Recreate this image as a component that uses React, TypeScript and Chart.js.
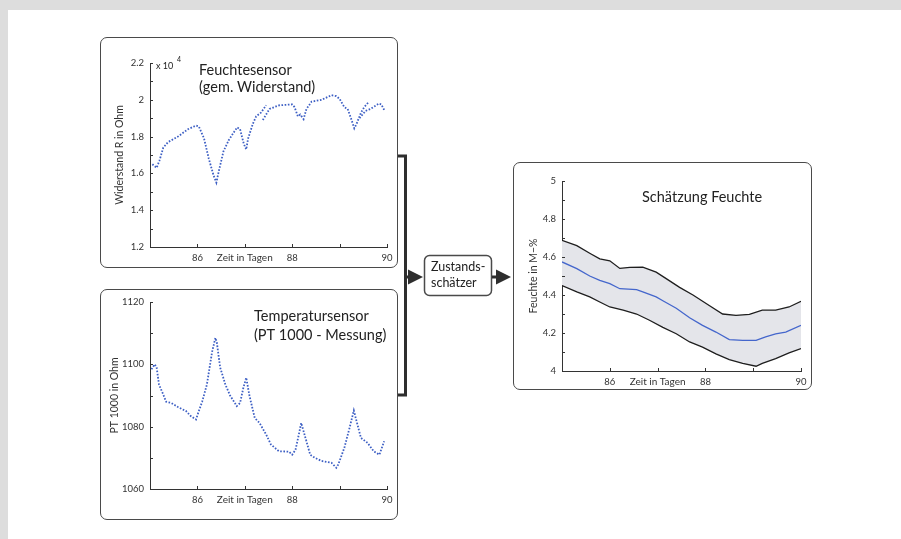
import React, { useEffect, useRef } from 'react';
import { Chart, registerables } from 'chart.js';

Chart.register(...registerables);

const FONT = 'Lato, "Open Sans", sans-serif';
const INK = '#333333';
const DOT_BLUE = '#3d5fc4';
const LINE_BLUE = '#4466cc';

// shared x axis (days)
const X_TICKS = [86, 87, 88, 89, 90];
const X_LABELS = ['86', 'Zeit in Tagen', '88', '', '90'];

// Feuchtesensor (gemessener Widerstand, x 10^4 Ohm)
const HUM_T = [85.05, 85.14, 85.2, 85.28, 85.38, 85.59, 85.8, 85.97, 86.03, 86.14, 86.24, 86.34, 86.4, 86.45, 86.55, 86.66, 86.76, 86.84, 86.9, 86.98, 87.03, 87.07, 87.17, 87.24, 87.34, 87.45, 87.46, 87.38, 87.52, 87.72, 88.0, 88.05, 88.12, 88.17, 88.24, 88.3, 88.41, 88.62, 88.83, 88.93, 89.0, 89.1, 89.17, 89.24, 89.31, 89.36, 89.45, 89.52, 89.62, 89.63, 89.42, 89.55, 89.65, 89.83, 89.88, 89.95];
const HUM_R = [1.65, 1.63, 1.67, 1.74, 1.77, 1.8, 1.84, 1.86, 1.855, 1.79, 1.68, 1.59, 1.55, 1.61, 1.72, 1.78, 1.82, 1.85, 1.84, 1.76, 1.73, 1.79, 1.87, 1.91, 1.93, 1.97, null, 1.89, 1.95, 1.97, 1.975, 1.96, 1.91, 1.92, 1.895, 1.95, 1.99, 2.0, 2.025, 2.02, 2.005, 1.96, 1.95, 1.9, 1.845, 1.87, 1.93, 1.96, 1.99, null, 1.9, 1.94, 1.95, 1.98, 1.975, 1.94];
const HUM_YTICKS = [1.2, 1.3, 1.4, 1.5, 1.6, 1.7, 1.8, 1.9, 2.0, 2.1, 2.2];
const HUM_TITLE = ['Feuchtesensor', '(gem. Widerstand)'];
const HUM_YTITLE = 'Widerstand R in Ohm';
const HUM_EXP = ['x 10', '4'];

// Temperatursensor (PT 1000)
const TEMP_T = [85.03, 85.1, 85.14, 85.19, 85.28, 85.34, 85.45, 85.59, 85.76, 85.86, 85.97, 86.03, 86.1, 86.2, 86.31, 86.38, 86.41, 86.48, 86.59, 86.69, 86.83, 86.9, 86.97, 87.03, 87.1, 87.21, 87.31, 87.45, 87.55, 87.72, 87.93, 88.0, 88.07, 88.14, 88.19, 88.28, 88.38, 88.48, 88.62, 88.83, 88.93, 88.97, 89.1, 89.21, 89.3, 89.34, 89.45, 89.59, 89.72, 89.84, 89.94];
const TEMP_R = [1098.4, 1100, 1099, 1093.5, 1090.3, 1088, 1087.6, 1086.3, 1085, 1083.4, 1082.3, 1085, 1088, 1093.5, 1104, 1108.5, 1107, 1099, 1093.5, 1090, 1086.6, 1087.6, 1092.5, 1095.7, 1089.8, 1082.8, 1081.2, 1077.5, 1074.3, 1072.1, 1072, 1071, 1072.6, 1077.5, 1081.2, 1076.4, 1071, 1070, 1069, 1068.4, 1066.8, 1067.8, 1073.2, 1079.6, 1085.2, 1082.8, 1076.4, 1074.8, 1072.1, 1071, 1075.3];
const TEMP_YTICKS = [1060, 1070, 1080, 1090, 1100, 1110, 1120];
const TEMP_TITLE = ['Temperatursensor', '(PT 1000 - Messung)'];
const TEMP_YTITLE = 'PT 1000 in Ohm';

// Schätzung Feuchte (M-%)
const EST_MID_T = [85.0, 85.31, 85.58, 85.79, 86.0, 86.21, 86.56, 86.69, 86.97, 87.11, 87.39, 87.67, 87.94, 88.22, 88.5, 88.78, 89.06, 89.26, 89.47, 89.68, 90.0];
const EST_MID = [4.574, 4.539, 4.5, 4.477, 4.46, 4.433, 4.428, 4.416, 4.39, 4.37, 4.33, 4.28, 4.24, 4.205, 4.165, 4.161, 4.161, 4.18, 4.196, 4.205, 4.24];
const EST_UP_T = [85.0, 85.31, 85.58, 85.79, 86.0, 86.21, 86.42, 86.69, 86.97, 87.18, 87.46, 87.74, 88.08, 88.36, 88.64, 88.92, 89.19, 89.47, 89.75, 90.0];
const EST_UP = [4.688, 4.66, 4.62, 4.59, 4.58, 4.54, 4.545, 4.547, 4.52, 4.486, 4.44, 4.4, 4.345, 4.3, 4.293, 4.298, 4.32, 4.32, 4.337, 4.367];
const EST_LO_T = [85.0, 85.31, 85.58, 85.79, 86.0, 86.28, 86.56, 86.83, 87.11, 87.39, 87.67, 87.94, 88.22, 88.5, 88.78, 89.06, 89.19, 89.47, 89.75, 90.0];
const EST_LO = [4.45, 4.416, 4.39, 4.363, 4.337, 4.32, 4.3, 4.267, 4.23, 4.196, 4.153, 4.126, 4.09, 4.06, 4.04, 4.025, 4.04, 4.065, 4.095, 4.118];
const EST_YTICKS = [4.0, 4.1, 4.2, 4.3, 4.4, 4.5, 4.6, 4.7, 4.8, 4.9, 5.0];
const EST_TITLE = ['Schätzung Feuchte'];
const EST_YTITLE = 'Feuchte in M\u2212%';

const BOX_TEXT = ['Zustands-', 'schätzer'];

const pts = (xs: number[], ys: (number | null)[]) => xs.map((x, i) => ({ x, y: ys[i] }));

type TextItem = { text: string; x: number; y: number; size: number };
type Spec = {
  left: number; top: number; width: number; height: number;
  area: { left: number; top: number; right: number; bottom: number };
  datasets: any[];
  yMin: number; yMax: number; yStep: number; yTicks: number[];
  yTitle: string; yTitlePad: number;
  texts: TextItem[];
};

function Panel({ spec }: { spec: Spec }) {
  const ref = useRef<HTMLCanvasElement | null>(null);
  useEffect(() => {
    if (!ref.current) return;
    const s = spec;
    const deco = {
      id: 'deco',
      afterDraw(chart: any) {
        const ctx = chart.ctx;
        const xs = chart.scales.x;
        const ys = chart.scales.y;
        const ca = chart.chartArea;
        ctx.save();
        ctx.strokeStyle = INK;
        ctx.lineWidth = 1;
        ctx.beginPath();
        s.yTicks.forEach((v) => {
          const py = Math.round(ys.getPixelForValue(v)) + 0.5;
          ctx.moveTo(ca.left, py);
          ctx.lineTo(ca.left + 3, py);
        });
        X_TICKS.forEach((v) => {
          const px = Math.round(xs.getPixelForValue(v)) + 0.5;
          ctx.moveTo(px, ca.bottom);
          ctx.lineTo(px, ca.bottom - 3);
        });
        ctx.stroke();
        ctx.fillStyle = '#222';
        ctx.textBaseline = 'middle';
        ctx.textAlign = 'left';
        s.texts.forEach((t) => {
          ctx.font = `${t.size}px ${FONT}`;
          ctx.fillText(t.text, t.x, t.y);
        });
        ctx.restore();
      },
    };
    const chart = new Chart(ref.current, {
      type: 'line',
      data: { datasets: s.datasets },
      options: {
        animation: false,
        responsive: false,
        layout: { padding: { left: 0, top: s.area.top, right: s.width - s.area.right, bottom: 0 } },
        plugins: {
          legend: { display: false },
          tooltip: { enabled: false },
          filler: { drawTime: 'beforeDatasetsDraw' },
        } as any,
        elements: { point: { radius: 0 } },
        scales: {
          x: {
            type: 'linear',
            min: 85,
            max: 90,
            grid: { display: false, drawTicks: false },
            border: { display: true, color: INK, width: 1 },
            ticks: {
              stepSize: 1,
              autoSkip: false,
              maxRotation: 0,
              padding: 5,
              color: INK,
              font: (c: any) => ({ family: FONT, size: c.tick && c.tick.value === 87 ? 10 : 9.5 }),
              callback: (v: any) => {
                const i = X_TICKS.indexOf(Number(v));
                return i >= 0 ? X_LABELS[i] : '';
              },
            },
            afterFit: (sc: any) => { sc.height = s.height - s.area.bottom; },
          },
          y: {
            type: 'linear',
            min: s.yMin,
            max: s.yMax,
            grid: { display: false, drawTicks: false },
            border: { display: true, color: INK, width: 1 },
            ticks: {
              stepSize: s.yStep,
              padding: 6,
              color: INK,
              font: { family: FONT, size: 9.5 },
              callback: (v: any) => String(Math.round(Number(v) * 10) / 10),
            },
            title: {
              display: true,
              text: s.yTitle,
              color: INK,
              font: { family: FONT, size: 10.5 },
              padding: { top: s.yTitlePad, bottom: 0 },
            },
            afterFit: (sc: any) => { sc.width = s.area.left; },
          },
        },
      } as any,
      plugins: [deco],
    });
    return () => chart.destroy();
  }, [spec]);
  return (
    <>
      <div
        style={{
          position: 'absolute', left: spec.left, top: spec.top, width: spec.width, height: spec.height,
          border: '1.5px solid #4a4a4a', borderRadius: 7, boxSizing: 'border-box', background: '#fff',
        }}
      />
      <canvas
        ref={ref}
        width={spec.width}
        height={spec.height}
        style={{ position: 'absolute', left: spec.left, top: spec.top, width: spec.width, height: spec.height }}
      />
    </>
  );
}

const dotted = (data: any[]) => ({
  data,
  showLine: true,
  borderColor: DOT_BLUE,
  borderWidth: 1.8,
  borderDash: [1.6, 1.6],
  pointRadius: 0,
  fill: false,
  spanGaps: false,
});

const HUM_SPEC: Spec = {
  left: 100, top: 37, width: 298, height: 231,
  area: { left: 50, top: 26, right: 287, bottom: 210 },
  datasets: [dotted(pts(HUM_T, HUM_R))],
  yMin: 1.2, yMax: 2.2, yStep: 0.2, yTicks: HUM_YTICKS,
  yTitle: HUM_YTITLE, yTitlePad: 13.5,
  texts: [
    { text: HUM_TITLE[0], x: 99, y: 33, size: 14.5 },
    { text: HUM_TITLE[1], x: 99, y: 50, size: 14.5 },
    { text: HUM_EXP[0], x: 56, y: 29, size: 9 },
    { text: HUM_EXP[1], x: 77, y: 23, size: 7 },
  ],
};

const TEMP_SPEC: Spec = {
  left: 100, top: 289, width: 298, height: 231,
  area: { left: 50, top: 13, right: 287, bottom: 200 },
  datasets: [dotted(pts(TEMP_T, TEMP_R))],
  yMin: 1060, yMax: 1120, yStep: 20, yTicks: TEMP_YTICKS,
  yTitle: TEMP_YTITLE, yTitlePad: 8.7,
  texts: [
    { text: TEMP_TITLE[0], x: 154, y: 27, size: 14.5 },
    { text: TEMP_TITLE[1], x: 154, y: 46, size: 14.5 },
  ],
};

const EST_SPEC: Spec = {
  left: 513, top: 162, width: 299, height: 228,
  area: { left: 49, top: 19, right: 288, bottom: 209 },
  datasets: [
    { data: pts(EST_MID_T, EST_MID), borderColor: LINE_BLUE, borderWidth: 1.3, pointRadius: 0, fill: false },
    { data: pts(EST_LO_T, EST_LO), borderColor: '#1e1e1e', borderWidth: 1.3, pointRadius: 0, fill: false },
    { data: pts(EST_UP_T, EST_UP), borderColor: '#1e1e1e', borderWidth: 1.3, pointRadius: 0, fill: '-1', backgroundColor: '#e4e5ea' },
  ],
  yMin: 4, yMax: 5, yStep: 0.2, yTicks: EST_YTICKS,
  yTitle: EST_YTITLE, yTitlePad: 14.4,
  texts: [{ text: EST_TITLE[0], x: 129, y: 35, size: 14.5 }],
};

export default function App() {
  return (
    <div style={{ position: 'fixed', left: 0, top: 0, width: 901, height: 539, background: '#dddddd', overflow: 'hidden' }}>
      <div style={{ position: 'absolute', left: 8, top: 10, right: 0, bottom: 0, background: '#ffffff' }} />
      <Panel spec={HUM_SPEC} />
      <Panel spec={TEMP_SPEC} />
      <Panel spec={EST_SPEC} />
      <svg width={901} height={539} style={{ position: 'absolute', left: 0, top: 0, pointerEvents: 'none' }}>
        <polyline points="398,156 405.5,156 405.5,395 398,395" fill="none" stroke="#2e2e2e" strokeWidth={3} />
        <line x1={405.5} y1={277} x2={410} y2={277} stroke="#2e2e2e" strokeWidth={3} />
        <polygon points="408,269.5 423,277 408,284.5" fill="#2e2e2e" />
        <rect x={424.5} y={255.5} width={67} height={40} rx={5} ry={5} fill="#fff" stroke="#4a4a4a" strokeWidth={1.5} />
        <text x={431} y={271} fontFamily={FONT} fontSize={12.5} fill="#222">{BOX_TEXT[0]}</text>
        <text x={431} y={287} fontFamily={FONT} fontSize={12.5} fill="#222">{BOX_TEXT[1]}</text>
        <line x1={492} y1={277} x2={498} y2={277} stroke="#2e2e2e" strokeWidth={3} />
        <polygon points="496,269.5 511,277 496,284.5" fill="#2e2e2e" />
      </svg>
    </div>
  );
}
